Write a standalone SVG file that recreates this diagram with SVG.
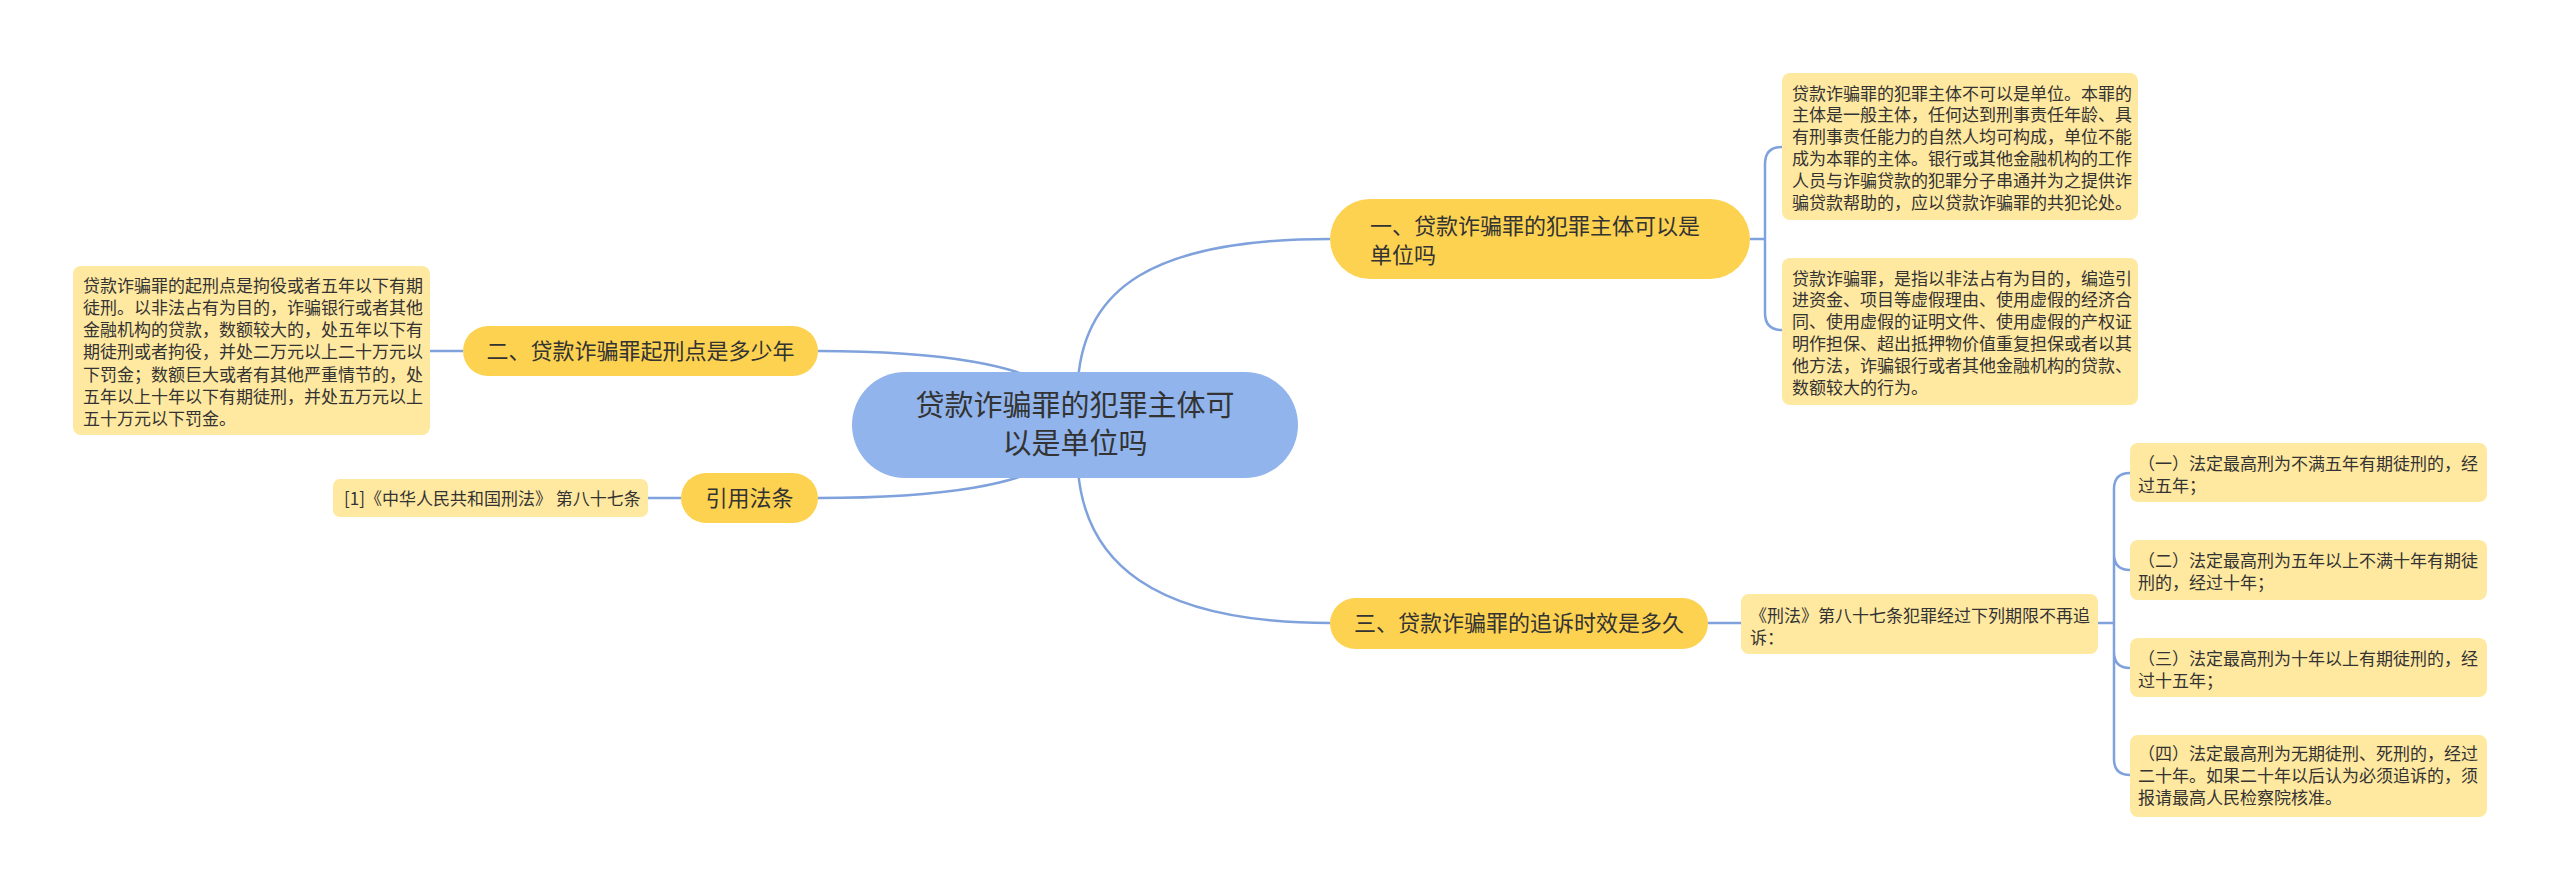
<svg xmlns="http://www.w3.org/2000/svg" width="2560" height="890" viewBox="0 0 2560 890">
<style>
text{font-family:"Noto Sans CJK SC","Noto Sans",sans-serif;fill:#333333}
.root{fill:#91B4EC}
.main{fill:#FDD250}
.leaf{fill:#FFE8A0}
.t29{font-size:29px}
.t22{font-size:22px}
.t17{font-size:17px}
.c{text-anchor:middle}
.ln{fill:none;stroke:#7FA2DC;stroke-width:2.5}
</style>
<rect width="2560" height="890" fill="#ffffff"/>
<g id="connectors">
<path class="ln" d="M1078,380 C1085,290 1150,239 1330,239"/>
<path class="ln" d="M1078,470 C1085,560 1150,623 1330,623"/>
<path class="ln" d="M1060,395 C1030,365 940,351 818,351"/>
<path class="ln" d="M1060,455 C1030,485 940,498 818,498"/>
<path class="ln" d="M430,351 L463,351"/>
<path class="ln" d="M648,498 L681,498"/>
<path class="ln" d="M1708,623 L1741,623"/>
<path class="ln" d="M1750,239 L1765,239 M1782,147 Q1765,147 1765,164 L1765,313 Q1765,330 1782,330"/>
<path class="ln" d="M2098,623 L2114,623 M2130,473 Q2114,473 2114,489 L2114,759 Q2114,775 2130,775 M2114,554 Q2114,570 2130,570 M2114,652 Q2114,668 2130,668"/>
</g>
<g id="root">
<rect class="root" x="852" y="372" width="446" height="106" rx="53"/>
<text class="t29 c" x="1075" y="416">贷款诈骗罪的犯罪主体可</text>
<text class="t29 c" x="1075" y="454">以是单位吗</text>
</g>
<g id="n1">
<rect class="main" x="1330" y="199" width="420" height="80" rx="40"/>
<text class="t22" x="1370" y="234.4">一、贷款诈骗罪的犯罪主体可以是</text>
<text class="t22" x="1370" y="263.4">单位吗</text>
</g>
<g id="n1a">
<rect class="leaf" x="1782" y="73" width="356" height="147" rx="8"/>
<text class="t17" x="1792" y="99.5">贷款诈骗罪的犯罪主体不可以是单位。本罪的</text>
<text class="t17" x="1792" y="121.3">主体是一般主体，任何达到刑事责任年龄、具</text>
<text class="t17" x="1792" y="143.1">有刑事责任能力的自然人均可构成，单位不能</text>
<text class="t17" x="1792" y="164.9">成为本罪的主体。银行或其他金融机构的工作</text>
<text class="t17" x="1792" y="186.7">人员与诈骗贷款的犯罪分子串通并为之提供诈</text>
<text class="t17" x="1792" y="208.5">骗贷款帮助的，应以贷款诈骗罪的共犯论处。</text>
</g>
<g id="n1b">
<rect class="leaf" x="1782" y="258" width="356" height="147" rx="8"/>
<text class="t17" x="1792" y="284.5">贷款诈骗罪，是指以非法占有为目的，编造引</text>
<text class="t17" x="1792" y="306.3">进资金、项目等虚假理由、使用虚假的经济合</text>
<text class="t17" x="1792" y="328.1">同、使用虚假的证明文件、使用虚假的产权证</text>
<text class="t17" x="1792" y="349.9">明作担保、超出抵押物价值重复担保或者以其</text>
<text class="t17" x="1792" y="371.7">他方法，诈骗银行或者其他金融机构的贷款、</text>
<text class="t17" x="1792" y="393.5">数额较大的行为。</text>
</g>
<g id="n2">
<rect class="main" x="463" y="326" width="355" height="50" rx="25"/>
<text class="t22 c" x="640.5" y="359.4">二、贷款诈骗罪起刑点是多少年</text>
</g>
<g id="n2a">
<rect class="leaf" x="73" y="266" width="357" height="169" rx="8"/>
<text class="t17" x="83" y="291.5">贷款诈骗罪的起刑点是拘役或者五年以下有期</text>
<text class="t17" x="83" y="313.8">徒刑。以非法占有为目的，诈骗银行或者其他</text>
<text class="t17" x="83" y="336.1">金融机构的贷款，数额较大的，处五年以下有</text>
<text class="t17" x="83" y="358.4">期徒刑或者拘役，并处二万元以上二十万元以</text>
<text class="t17" x="83" y="380.7">下罚金；数额巨大或者有其他严重情节的，处</text>
<text class="t17" x="83" y="403">五年以上十年以下有期徒刑，并处五万元以上</text>
<text class="t17" x="83" y="425.3">五十万元以下罚金。</text>
</g>
<g id="n4">
<rect class="main" x="681" y="473" width="137" height="50" rx="25"/>
<text class="t22 c" x="749.5" y="506.4">引用法条</text>
</g>
<g id="n4a">
<rect class="leaf" x="333" y="479" width="315" height="38" rx="7"/>
<text class="t17" x="344" y="504.5">[1]《中华人民共和国刑法》 第八十七条</text>
</g>
<g id="n3">
<rect class="main" x="1330" y="598" width="378" height="51" rx="25.5"/>
<text class="t22 c" x="1519" y="631.4">三、贷款诈骗罪的追诉时效是多久</text>
</g>
<g id="n3a">
<rect class="leaf" x="1741" y="594" width="357" height="60" rx="8"/>
<text class="t17" x="1750" y="621.5">《刑法》第八十七条犯罪经过下列期限不再追</text>
<text class="t17" x="1750" y="644">诉：</text>
</g>
<g id="n3b">
<rect class="leaf" x="2130" y="443" width="357" height="59" rx="8"/>
<text class="t17" x="2138" y="469.5">（一）法定最高刑为不满五年有期徒刑的，经</text>
<text class="t17" x="2138" y="491.5">过五年；</text>
</g>
<g id="n3c">
<rect class="leaf" x="2130" y="540" width="357" height="60" rx="8"/>
<text class="t17" x="2138" y="566.5">（二）法定最高刑为五年以上不满十年有期徒</text>
<text class="t17" x="2138" y="588.5">刑的，经过十年；</text>
</g>
<g id="n3d">
<rect class="leaf" x="2130" y="638" width="357" height="59" rx="8"/>
<text class="t17" x="2138" y="664.5">（三）法定最高刑为十年以上有期徒刑的，经</text>
<text class="t17" x="2138" y="686.5">过十五年；</text>
</g>
<g id="n3e">
<rect class="leaf" x="2130" y="735" width="357" height="82" rx="8"/>
<text class="t17" x="2138" y="759.5">（四）法定最高刑为无期徒刑、死刑的，经过</text>
<text class="t17" x="2138" y="781.5">二十年。如果二十年以后认为必须追诉的，须</text>
<text class="t17" x="2138" y="803.5">报请最高人民检察院核准。</text>
</g>
</svg>
